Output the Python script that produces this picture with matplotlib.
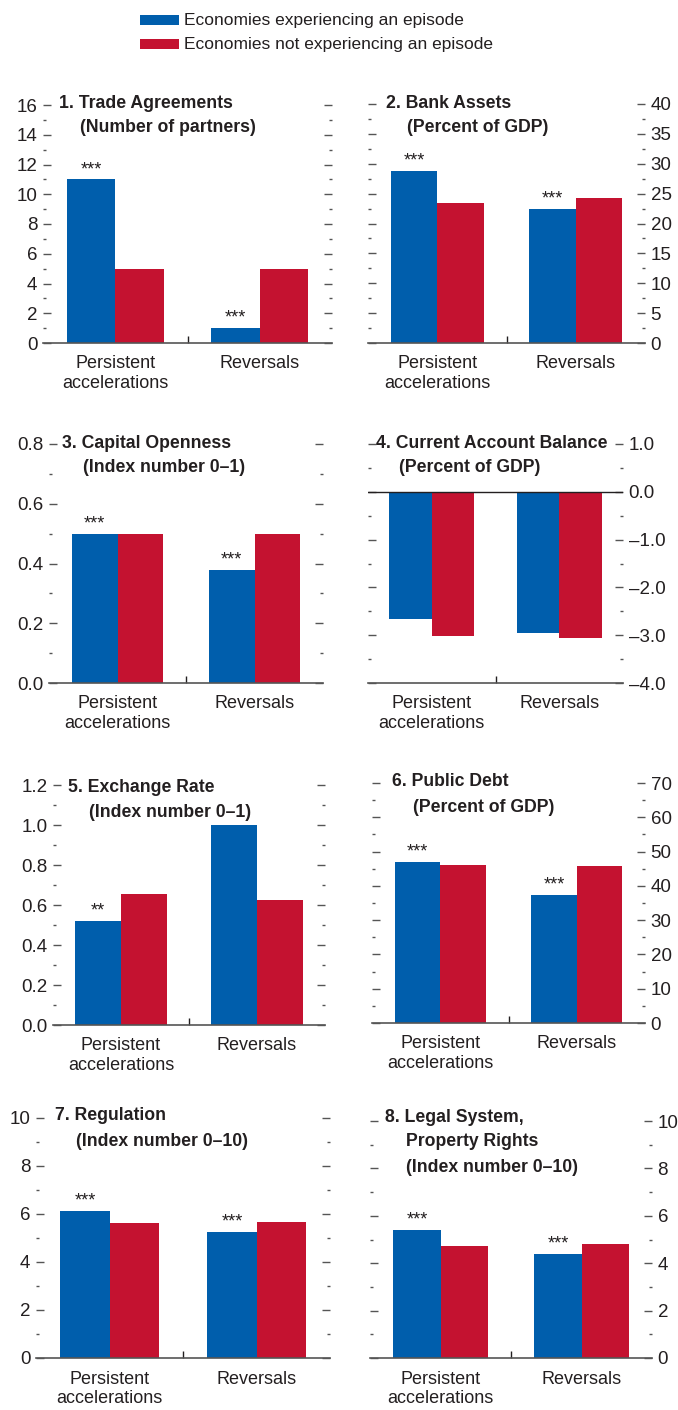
import matplotlib
matplotlib.use('Agg')
import matplotlib.pyplot as plt
from matplotlib.ticker import MultipleLocator, FuncFormatter, FixedLocator
from matplotlib.patches import Rectangle

# data
categories = ['Persistent\naccelerations', 'Reversals']
series_names = ['Economies experiencing an episode',
                'Economies not experiencing an episode']

trade_ep = [11, 1]
trade_not = [5, 5]
bank_ep = [28.8, 22.4]
bank_not = [23.4, 24.2]
capital_ep = [0.5, 0.378]
capital_not = [0.5, 0.5]
ca_ep = [-2.67, -2.95]
ca_not = [-3.02, -3.06]
fx_ep = [0.52, 1.0]
fx_not = [0.655, 0.625]
debt_ep = [47.0, 37.3]
debt_not = [46.1, 45.8]
reg_ep = [6.13, 5.25]
reg_not = [5.63, 5.67]
legal_ep = [5.39, 4.38]
legal_not = [4.73, 4.80]

trade_stars = ['***', '***']
bank_stars = ['***', '***']
capital_stars = ['***', '***']
ca_stars = ['', '']
fx_stars = ['**', '']
debt_stars = ['***', '***']
reg_stars = ['***', '***']
legal_stars = ['***', '***']

# style
plt.rcParams['font.family'] = ['Liberation Sans', 'DejaVu Sans']
plt.rcParams['axes.unicode_minus'] = False
plt.rcParams['font.size'] = 13

BLUE = '#005eac'
RED = '#c41230'
TXT = '#231f20'
AXC = '#555555'

W, H = 678, 1410
fig = plt.figure(figsize=(W / 100, H / 100), dpi=100)


def box(x0, x1, ytop, ybot):
    return [x0 / W, 1 - ybot / H, (x1 - x0) / W, (ybot - ytop) / H]


def dash_fmt(fmt):
    return FuncFormatter(lambda v, p: (fmt.format(v)).replace('-', '\u2013'))


def panel(pos, ep, nots, stars, ylim, major, minor, fmt, side, title_lines,
          zero_line=False):
    ax = fig.add_axes(box(*pos))
    x = list(range(len(categories)))
    w = 0.335
    ax.bar([xi - w / 2 for xi in x], ep, width=w, color=BLUE, linewidth=0)
    ax.bar([xi + w / 2 for xi in x], nots, width=w, color=RED, linewidth=0)
    for xi, v, s in zip(x, ep, stars):
        if s:
            ax.annotate(s, (xi - w / 2, max(v, 0)), xytext=(0, 1),
                        textcoords='offset points', ha='center', va='bottom',
                        fontsize=13, color=TXT)
    ax.set_xlim(-0.5, 1.5)
    ax.set_ylim(*ylim)
    for sp in ['top', 'left', 'right']:
        ax.spines[sp].set_visible(False)
    ax.spines['bottom'].set_color(AXC)
    ax.spines['bottom'].set_linewidth(1.2)
    if zero_line:
        ax.axhline(0, color=TXT, linewidth=1.0)

    ax.yaxis.set_major_locator(MultipleLocator(major))
    ax.yaxis.set_minor_locator(MultipleLocator(minor))
    ax.yaxis.set_major_formatter(dash_fmt(fmt))
    ax.tick_params(axis='y', which='both', left=True, right=True,
                   direction='in', color=AXC, width=1.0,
                   labelleft=(side == 'left'), labelright=(side == 'right'),
                   labelsize=13.5, labelcolor=TXT, pad=4)
    ax.tick_params(axis='y', which='major', length=5.5)
    ax.tick_params(axis='y', which='minor', length=2.5)

    ax.xaxis.set_major_locator(FixedLocator([0.5]))
    ax.xaxis.set_major_formatter(FuncFormatter(lambda v, p: ''))
    ax.set_xticks(x, categories, minor=True)
    ax.tick_params(axis='x', which='major', direction='in', length=5,
                   width=1.0, color=TXT)
    ax.tick_params(axis='x', which='minor', length=0, pad=9,
                   labelsize=13, labelcolor=TXT)
    for lab in ax.get_xticklabels(minor=True):
        lab.set_linespacing(1.2)

    # title lines, placed in pixels
    for (tx, ty, t) in title_lines:
        fig.text(tx / W, 1 - ty / H, t, fontsize=12.7, fontweight='bold',
                 color=TXT, ha='left', va='center')
    return ax


panel((43, 332, 105, 343), trade_ep, trade_not, trade_stars, (0, 16), 2, 1,
      '{:.0f}', 'left',
      [(59, 103, '1. Trade Agreements'), (80, 127, '(Number of partners)')])
panel((368, 645, 104, 343), bank_ep, bank_not, bank_stars, (0, 40), 5, 2.5,
      '{:.0f}', 'right',
      [(386, 103, '2. Bank Assets'), (407, 127, '(Percent of GDP)')])
panel((49, 323, 444, 683), capital_ep, capital_not, capital_stars, (0, 0.8),
      0.2, 0.1, '{:.1f}', 'left',
      [(62, 443, '3. Capital Openness'), (83, 468, '(Index number 0\u20131)')])
panel((368, 623, 444, 683), ca_ep, ca_not, ca_stars, (-4, 1), 1, 0.5,
      '{:.1f}', 'right',
      [(376, 443, '4. Current Account Balance'), (399, 467, '(Percent of GDP)')],
      zero_line=True)
panel((53, 325, 785, 1025), fx_ep, fx_not, fx_stars, (0, 1.2), 0.2, 0.1,
      '{:.1f}', 'left',
      [(68, 787, '5. Exchange Rate'), (89, 812, '(Index number 0\u20131)')])
panel((372, 645, 783, 1023), debt_ep, debt_not, debt_stars, (0, 70), 10, 5,
      '{:.0f}', 'right',
      [(392, 782, '6. Public Debt'), (413, 807, '(Percent of GDP)')])
panel((36, 330, 1118, 1358), reg_ep, reg_not, reg_stars, (0, 10), 2, 1,
      '{:.0f}', 'left',
      [(55, 1115, '7. Regulation'), (76, 1142, '(Index number 0\u201310)')])
panel((370, 652, 1121, 1358), legal_ep, legal_not, legal_stars, (0, 10), 2, 1,
      '{:.0f}', 'right',
      [(385, 1117, '8. Legal System,'), (406, 1142, 'Property Rights'),
       (406, 1168, '(Index number 0\u201310)')])

# legend at the top
for i, (name, col) in enumerate(zip(series_names, [BLUE, RED])):
    yc = 20 + i * 24
    fig.patches.append(Rectangle((140 / W, 1 - (yc + 5) / H), 39 / W, 10 / H,
                                 transform=fig.transFigure, color=col,
                                 linewidth=0))
    fig.text(184 / W, 1 - yc / H, name, fontsize=12.5, color=TXT,
             ha='left', va='center')

plt.savefig('out.png', dpi=100)
plt.close()
